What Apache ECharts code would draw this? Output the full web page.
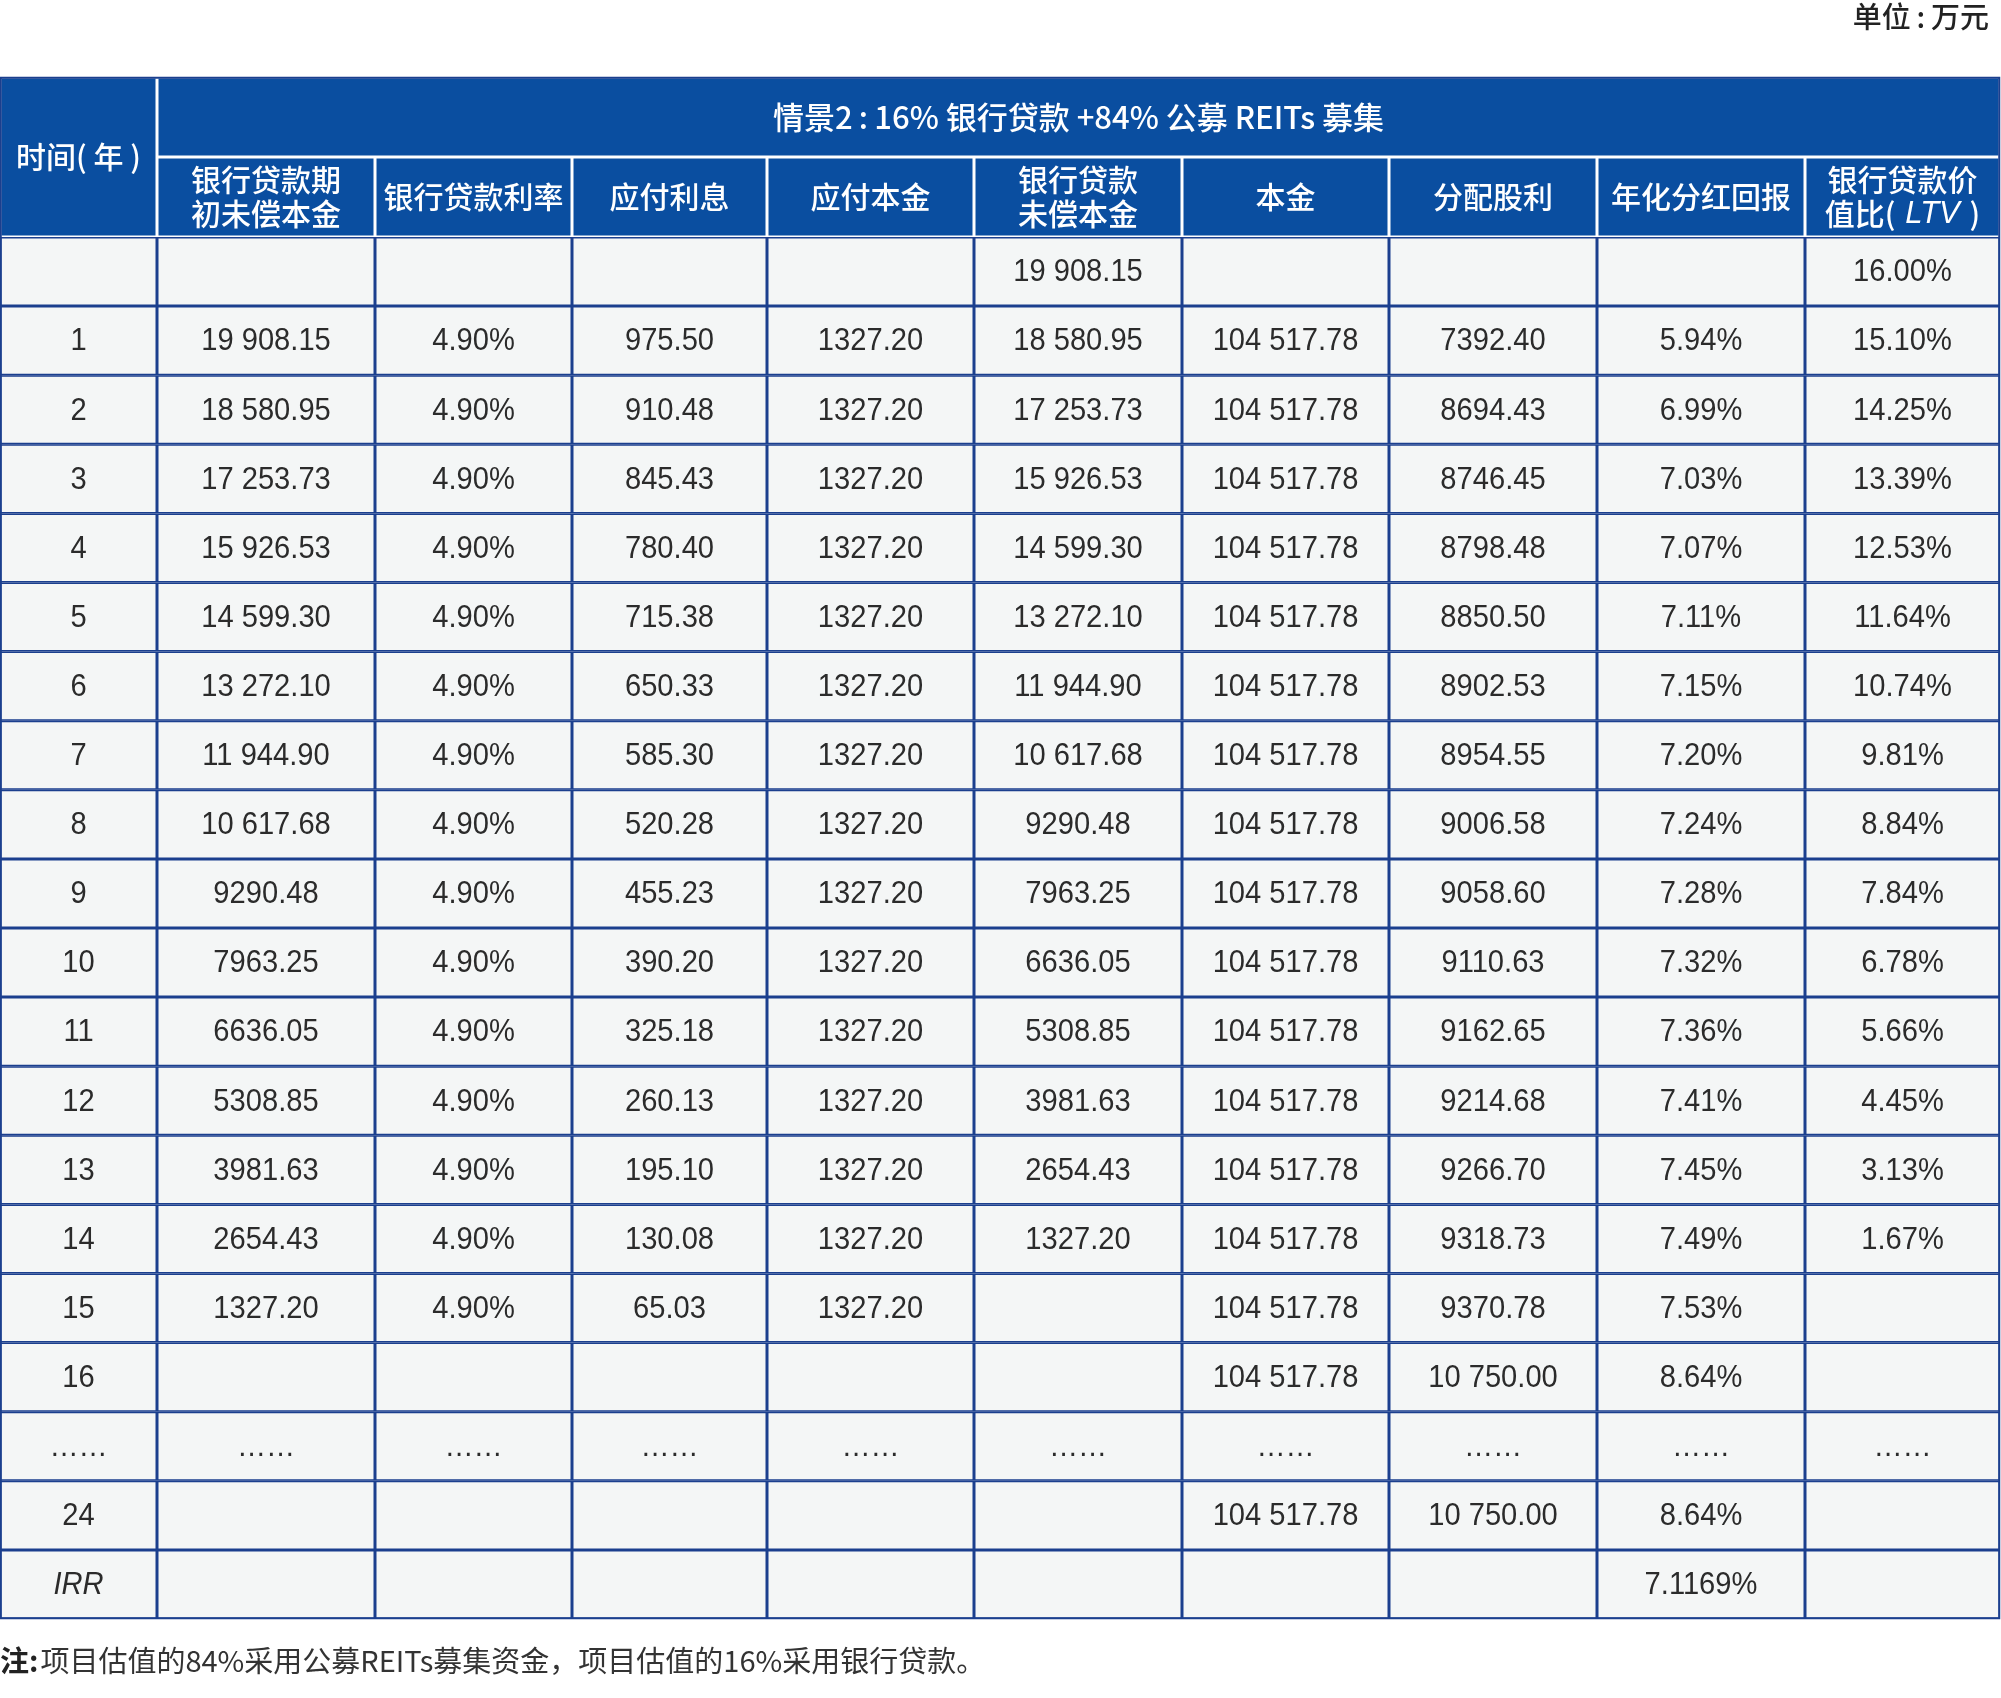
<!DOCTYPE html>
<html>
<head>
<meta charset="utf-8">
<title>情景2：16%银行贷款+84%公募REITs募集</title>
<script src="https://cdn.jsdelivr.net/npm/echarts@6/dist/echarts.min.js"></script>
<style>
  html, body { margin: 0; padding: 0; background: #fff; }
  #reits-table { width: 2001px; height: 1698px; }
</style>
</head>
<body>
<div id="reits-table"></div>
<script>
// 表格数据（单位：万元），null 为空格，"……"行单独标记
const years = ['', '1', '2', '3', '4', '5', '6', '7', '8', '9', '10', '11', '12', '13', '14', '15', '16', '……', '24', 'IRR'];
const openBalance = [null, 19908.15, 18580.95, 17253.73, 15926.53, 14599.30, 13272.10, 11944.90, 10617.68, 9290.48, 7963.25, 6636.05, 5308.85, 3981.63, 2654.43, 1327.20, null, null, null, null];
const loanRate = [null, 4.90, 4.90, 4.90, 4.90, 4.90, 4.90, 4.90, 4.90, 4.90, 4.90, 4.90, 4.90, 4.90, 4.90, 4.90, null, null, null, null];
const interestDue = [null, 975.50, 910.48, 845.43, 780.40, 715.38, 650.33, 585.30, 520.28, 455.23, 390.20, 325.18, 260.13, 195.10, 130.08, 65.03, null, null, null, null];
const principalDue = [null, 1327.20, 1327.20, 1327.20, 1327.20, 1327.20, 1327.20, 1327.20, 1327.20, 1327.20, 1327.20, 1327.20, 1327.20, 1327.20, 1327.20, 1327.20, null, null, null, null];
const closeBalance = [19908.15, 18580.95, 17253.73, 15926.53, 14599.30, 13272.10, 11944.90, 10617.68, 9290.48, 7963.25, 6636.05, 5308.85, 3981.63, 2654.43, 1327.20, null, null, null, null, null];
const equity = [null, 104517.78, 104517.78, 104517.78, 104517.78, 104517.78, 104517.78, 104517.78, 104517.78, 104517.78, 104517.78, 104517.78, 104517.78, 104517.78, 104517.78, 104517.78, 104517.78, null, 104517.78, null];
const dividend = [null, 7392.40, 8694.43, 8746.45, 8798.48, 8850.50, 8902.53, 8954.55, 9006.58, 9058.60, 9110.63, 9162.65, 9214.68, 9266.70, 9318.73, 9370.78, 10750.00, null, 10750.00, null];
const dividendYield = [null, 5.94, 6.99, 7.03, 7.07, 7.11, 7.15, 7.20, 7.24, 7.28, 7.32, 7.36, 7.41, 7.45, 7.49, 7.53, 8.64, null, 8.64, 7.1169];
const ltv = [16.00, 15.10, 14.25, 13.39, 12.53, 11.64, 10.74, 9.81, 8.84, 7.84, 6.78, 5.66, 4.45, 3.13, 1.67, null, null, null, null, null];

const tableTitle = '情景2\u2009:\u200916% 银行贷款 +84% 公募 REITs 募集';
const firstHead = '时间( 年 )';
const colHeads = ['银行贷款期\n初未偿本金', '银行贷款利率', '应付利息', '应付本金', '银行贷款\n未偿本金', '本金', '分配股利', '年化分红回报', '{h|银行贷款价}\n{h|值比( }{hi|LTV}{h| )}'];
const ellipsisRow = 17;
const irrRow = 19;

// 版式
const colEdges = [0, 157, 375, 572, 767, 974, 1182, 1389, 1597, 1805, 2000];
const tableTop = 77, titleBottom = 157, headBottom = 237, rowH = 69.1;

function fmtMoney(v) {
  let s = v.toFixed(2);
  if (v >= 10000) {
    const p = s.split('.');
    s = p[0].slice(0, -3) + ' ' + p[0].slice(-3) + '.' + p[1];
  }
  return s;
}
function fmtPct(v) {
  const r = Math.abs(v * 100 - Math.round(v * 100)) < 1e-6;
  return (r ? v.toFixed(2) : String(v)) + '%';
}

const columns = [
  { values: openBalance, fmt: fmtMoney },
  { values: loanRate, fmt: fmtPct },
  { values: interestDue, fmt: fmtMoney },
  { values: principalDue, fmt: fmtMoney },
  { values: closeBalance, fmt: fmtMoney },
  { values: equity, fmt: fmtMoney },
  { values: dividend, fmt: fmtMoney },
  { values: dividendYield, fmt: fmtPct },
  { values: ltv, fmt: fmtPct }
];

const BLUE = '#0a4ea0';
const LINE = '#1b3f8e';
const CELL_BG = '#f4f6f6';
const NUM_FONT = "'Liberation Sans', Arial, sans-serif";
const CJK_FONT = "'Noto Sans CJK SC', sans-serif";

// 单元格列表
const cells = [];
cells.push({ x0: colEdges[0], y0: tableTop, x1: colEdges[1], y1: headBottom, text: firstHead, kind: 'head' });
cells.push({ x0: colEdges[1], y0: tableTop, x1: colEdges[10], y1: titleBottom, text: tableTitle, kind: 'title' });
colHeads.forEach(function (h, i) {
  cells.push({ x0: colEdges[i + 1], y0: titleBottom, x1: colEdges[i + 2], y1: headBottom, text: h, kind: 'head' });
});
years.forEach(function (y, r) {
  const y0 = headBottom + r * rowH, y1 = y0 + rowH;
  cells.push({ x0: colEdges[0], y0: y0, x1: colEdges[1], y1: y1, text: y, kind: r === irrRow ? 'italic' : 'body' });
  columns.forEach(function (col, c) {
    let t = '';
    if (r === ellipsisRow) t = '……';
    else if (col.values[r] != null) t = col.fmt(col.values[r]);
    cells.push({ x0: colEdges[c + 1], y0: y0, x1: colEdges[c + 2], y1: y1, text: t, kind: 'body' });
  });
});
cells.push({ x0: colEdges[0], y0: tableTop, x1: colEdges[10], y1: headBottom + years.length * rowH, text: '', kind: 'frame' });

function renderCell(params, api) {
  const cell = cells[params.dataIndex];
  const p0 = api.coord([api.value(0), api.value(1)]);
  const p1 = api.coord([api.value(2), api.value(3)]);
  const x = p0[0] + 0.75, y = p0[1] + 0.75;
  const w = p1[0] - p0[0] - 1.5, h = p1[1] - p0[1] - 1.5;
  if (cell.kind === 'frame') {
    return { type: 'rect', shape: { x: x, y: y, width: w, height: h }, style: { fill: 'none', stroke: LINE, lineWidth: 2 } };
  }
  const head = cell.kind === 'head' || cell.kind === 'title';
  const fs = cell.kind === 'title' ? 31 : head ? 30 : 32;
  const textStyle = {
    text: cell.text,
    x: 0,
    y: 0,
    align: 'center',
    verticalAlign: 'middle',
    fill: head ? '#ffffff' : '#2b2b2b',
    fontFamily: head ? CJK_FONT : NUM_FONT,
    fontSize: fs,
    fontWeight: head ? 500 : 'normal',
    fontStyle: cell.kind === 'italic' ? 'italic' : 'normal',
    lineHeight: 34
  };
  if (head) {
    textStyle.rich = {
      h: { fontFamily: CJK_FONT, fontSize: 30, fontWeight: 500, fill: '#ffffff', lineHeight: 34 },
      hi: { fontFamily: NUM_FONT, fontSize: 31, fontStyle: 'italic', fill: '#ffffff', lineHeight: 34, padding: [0, 3] }
    };
  }
  return {
    type: 'group',
    children: [
      { type: 'rect', shape: { x: x, y: y, width: w, height: h },
        style: { fill: head ? BLUE : CELL_BG, stroke: head ? '#ffffff' : LINE, lineWidth: 1.5 } },
      { type: 'text',
        x: (p0[0] + p1[0]) / 2,
        y: (p0[1] + p1[1]) / 2 + (head ? 0 : 1),
        scaleX: head ? 1 : 0.91,
        style: textStyle }
    ]
  };
}

const chart = echarts.init(document.getElementById('reits-table'));
chart.setOption({
  animation: false,
  title: [
    {
      text: '单位\u2009:\u2009万元',
      right: 12, top: 2, padding: 0,
      textStyle: { fontFamily: CJK_FONT, fontSize: 29, fontWeight: 500, color: '#222' }
    },
    {
      text: '{b|注:}{n|项目估值的84%采用公募REITs募集资金，项目估值的16%采用银行贷款。}',
      left: 0, top: 1646, padding: 0,
      textStyle: {
        rich: {
          b: { fontFamily: CJK_FONT, fontSize: 29, fontWeight: 'bold', color: '#222', padding: [0, 2, 0, 0] },
          n: { fontFamily: CJK_FONT, fontSize: 29, fontWeight: 'normal', color: '#333' }
        }
      }
    }
  ],
  grid: { left: 0, right: 0, top: 0, bottom: 0 },
  xAxis: { type: 'value', min: 0, max: 2001, show: false },
  yAxis: { type: 'value', min: 0, max: 1698, inverse: true, show: false },
  series: [{
    type: 'custom',
    silent: true,
    renderItem: renderCell,
    encode: { x: [0, 2], y: [1, 3] },
    data: cells.map(function (c) { return [c.x0, c.y0, c.x1, c.y1]; })
  }]
});
</script>
</body>
</html>
